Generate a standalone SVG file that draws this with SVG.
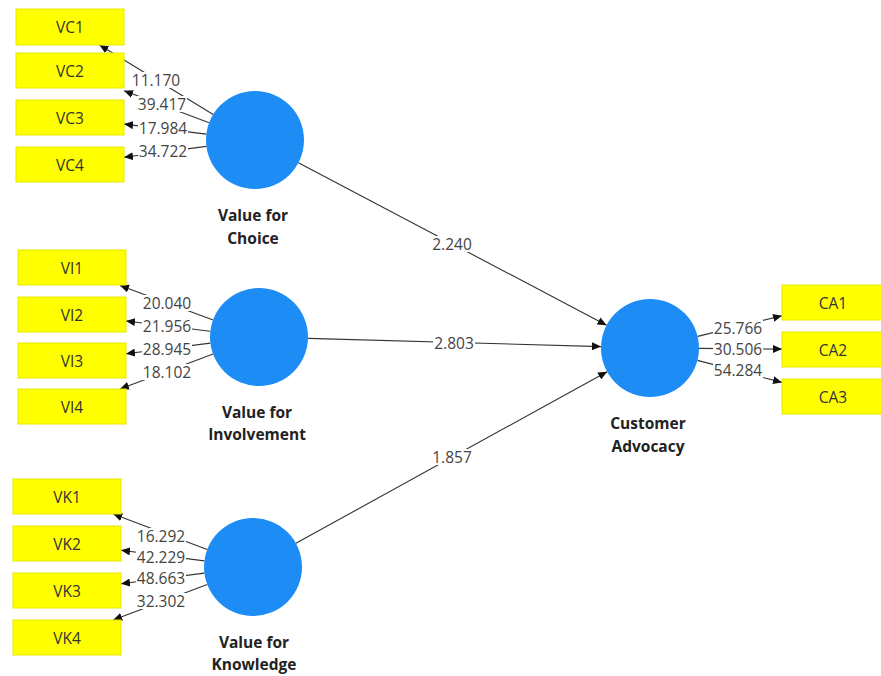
<svg xmlns="http://www.w3.org/2000/svg" width="881" height="676" viewBox="0 0 881 676">
<style>
.box{fill:#ffff00;stroke:#e8e800;stroke-width:1}
.bt{font-family:"Segoe UI","Open Sans","Noto Sans",sans-serif;font-size:15.5px;fill:#333;text-anchor:middle;dominant-baseline:central}
.lv{fill:#1e8cf5}
.lt{font-family:"Segoe UI","Open Sans","Noto Sans",sans-serif;font-size:15.5px;font-weight:bold;fill:#222;text-anchor:middle;dominant-baseline:central}
.ln{stroke:#333;stroke-width:1.1;fill:none;marker-end:url(#ah)}
.nl{font-family:"Segoe UI","Open Sans","Noto Sans",sans-serif;font-size:15.5px;fill:#444;text-anchor:middle;dominant-baseline:central}
.bg{fill:#fff}
</style>
<defs>
<marker id="ah" markerWidth="9" markerHeight="8" refX="9" refY="4" orient="auto" markerUnits="userSpaceOnUse">
<path d="M0,0 L9,4 L0,8 z" fill="#111"/>
</marker>
<rect id="b6" class="bg" x="-25" y="-8" width="50" height="16"/>
<rect id="b5" class="bg" x="-21" y="-8" width="42" height="16"/>
</defs>
<rect width="881" height="676" fill="#fff"/>
<g id="connectors">
<line class="ln" x1="213.2" y1="114.5" x2="99.5" y2="45"/>
<line class="ln" x1="209.1" y1="122.8" x2="124" y2="90.8"/>
<line class="ln" x1="206.4" y1="134.1" x2="124" y2="124.1"/>
<line class="ln" x1="206.4" y1="146.4" x2="124" y2="157.3"/>
<line class="ln" x1="213.1" y1="319.9" x2="120" y2="285.5"/>
<line class="ln" x1="210.3" y1="331.2" x2="126" y2="321"/>
<line class="ln" x1="210.4" y1="343.1" x2="126" y2="353.7"/>
<line class="ln" x1="213.1" y1="354.1" x2="120" y2="389"/>
<line class="ln" x1="207.2" y1="549.6" x2="113.2" y2="514"/>
<line class="ln" x1="204.4" y1="560.9" x2="121" y2="550.3"/>
<line class="ln" x1="204.4" y1="573.1" x2="121" y2="583.7"/>
<line class="ln" x1="207.2" y1="584.4" x2="113.2" y2="620"/>
<line class="ln" x1="697.6" y1="336.4" x2="782" y2="315.7"/>
<line class="ln" x1="699" y1="348.4" x2="782" y2="349.1"/>
<line class="ln" x1="697.4" y1="360.4" x2="782" y2="382.4"/>
<line class="ln" x1="298.4" y1="162.8" x2="606.6" y2="325.2"/>
<line class="ln" x1="308" y1="338.4" x2="601" y2="346.6"/>
<line class="ln" x1="295.9" y1="543.3" x2="607.1" y2="371.7"/>
<use href="#b6" x="156" y="80"/><text class="nl" x="156" y="80">11.170</text>
<use href="#b6" x="162" y="104"/><text class="nl" x="162" y="104">39.417</text>
<use href="#b6" x="163" y="128"/><text class="nl" x="163" y="128">17.984</text>
<use href="#b6" x="163" y="151"/><text class="nl" x="163" y="151">34.722</text>
<use href="#b6" x="167" y="303"/><text class="nl" x="167" y="303">20.040</text>
<use href="#b6" x="167" y="326"/><text class="nl" x="167" y="326">21.956</text>
<use href="#b6" x="167" y="349"/><text class="nl" x="167" y="349">28.945</text>
<use href="#b6" x="167" y="372"/><text class="nl" x="167" y="372">18.102</text>
<use href="#b6" x="161" y="536"/><text class="nl" x="161" y="536">16.292</text>
<use href="#b6" x="161" y="557"/><text class="nl" x="161" y="557">42.229</text>
<use href="#b6" x="161" y="578"/><text class="nl" x="161" y="578">48.663</text>
<use href="#b6" x="161" y="601"/><text class="nl" x="161" y="601">32.302</text>
<use href="#b6" x="738" y="328"/><text class="nl" x="738" y="328">25.766</text>
<use href="#b6" x="738" y="349"/><text class="nl" x="738" y="349">30.506</text>
<use href="#b6" x="738" y="370"/><text class="nl" x="738" y="370">54.284</text>
<use href="#b5" x="452" y="244"/><text class="nl" x="452" y="244">2.240</text>
<use href="#b5" x="454" y="343"/><text class="nl" x="454" y="343">2.803</text>
<use href="#b5" x="452" y="457"/><text class="nl" x="452" y="457">1.857</text>
</g>
<g id="VC1"><rect class="box" x="16" y="9" width="108" height="36"/><text class="bt" x="70" y="27">VC1</text></g>
<g id="VC2"><rect class="box" x="16" y="53" width="108" height="35"/><text class="bt" x="70" y="70.5">VC2</text></g>
<g id="VC3"><rect class="box" x="16" y="100" width="108" height="35"/><text class="bt" x="70" y="117.5">VC3</text></g>
<g id="VC4"><rect class="box" x="16" y="147" width="108" height="35"/><text class="bt" x="70" y="164.5">VC4</text></g>
<g id="VI1"><rect class="box" x="18" y="250" width="108" height="35"/><text class="bt" x="72" y="267.5">VI1</text></g>
<g id="VI2"><rect class="box" x="18" y="297" width="108" height="35"/><text class="bt" x="72" y="314.5">VI2</text></g>
<g id="VI3"><rect class="box" x="18" y="343" width="108" height="35"/><text class="bt" x="72" y="360.5">VI3</text></g>
<g id="VI4"><rect class="box" x="18" y="389" width="108" height="35"/><text class="bt" x="72" y="406.5">VI4</text></g>
<g id="VK1"><rect class="box" x="13" y="479" width="108" height="35"/><text class="bt" x="67" y="496.5">VK1</text></g>
<g id="VK2"><rect class="box" x="13" y="526" width="108" height="35"/><text class="bt" x="67" y="543.5">VK2</text></g>
<g id="VK3"><rect class="box" x="13" y="573" width="108" height="35"/><text class="bt" x="67" y="590.5">VK3</text></g>
<g id="VK4"><rect class="box" x="13" y="620" width="108" height="35"/><text class="bt" x="67" y="637.5">VK4</text></g>
<g id="CA1"><rect class="box" x="782" y="285" width="108" height="35"/><text class="bt" x="833" y="302.5">CA1</text></g>
<g id="CA2"><rect class="box" x="782" y="332" width="108" height="35"/><text class="bt" x="833" y="349.5">CA2</text></g>
<g id="CA3"><rect class="box" x="782" y="379" width="108" height="35"/><text class="bt" x="833" y="396.5">CA3</text></g>
<g id="ValueForChoice"><circle class="lv" cx="255" cy="140" r="49"/><text class="lt" x="253" y="215">Value for</text><text class="lt" x="253" y="238">Choice</text></g>
<g id="ValueForInvolvement"><circle class="lv" cx="259" cy="337" r="49"/><text class="lt" x="257" y="412">Value for</text><text class="lt" x="257" y="434">Involvement</text></g>
<g id="ValueForKnowledge"><circle class="lv" cx="253" cy="567" r="49"/><text class="lt" x="254" y="642">Value for</text><text class="lt" x="254" y="664">Knowledge</text></g>
<g id="CustomerAdvocacy"><circle class="lv" cx="650" cy="348" r="49"/><text class="lt" x="648" y="423">Customer</text><text class="lt" x="648" y="446">Advocacy</text></g>
</svg>
